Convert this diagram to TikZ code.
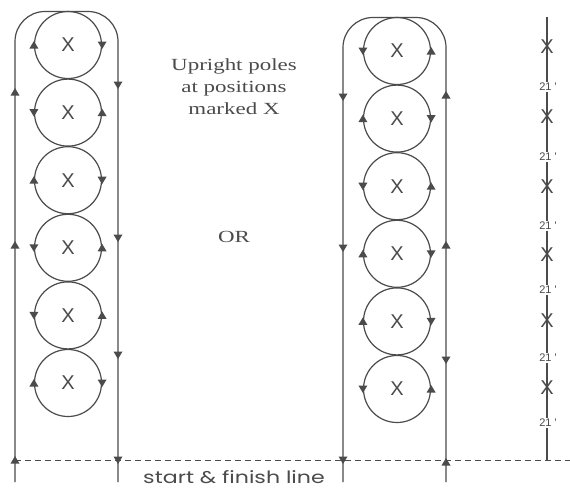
\documentclass[tikz,border=0pt]{standalone}
\usepackage{fontspec}
\setmainfont{Liberation Serif}
\newfontfamily\xfont{Liberation Sans}
\newfontfamily\agfont{Poppins}
\definecolor{lc}{RGB}{75,75,75}
\newcommand\arrU[1]{\fill[lc] (#1) ++(-4.5,3.5) -- ++(9,0) -- ++(-4.5,-7.5) -- cycle;}
\newcommand\arrD[1]{\fill[lc] (#1) ++(-4.5,-3.5) -- ++(9,0) -- ++(-4.5,7.5) -- cycle;}
\newcommand\widetxt[1]{\scalebox{1.35}[1]{#1}}
\begin{document}
\begin{tikzpicture}[x=1pt,y=-1pt,
  ln/.style={draw=lc, line width=1.2pt},
  pole/.style={circle, draw=lc, line width=1.2pt, minimum size=67pt, inner sep=0pt,
    font=\xfont\fontsize{20}{20}\selectfont, text=lc},
  xmark/.style={inner sep=0pt, font=\xfont\fontsize{20}{20}\selectfont, text=lc},
  dist/.style={fill=white, inner sep=1pt, font=\xfont\fontsize{11}{11}\selectfont, text=lc},
  txt/.style={align=center, text=lc, font=\fontsize{17}{22}\selectfont}]
\useasboundingbox (0,0) rectangle (570,490);
\fill[white] (0,0) rectangle (570,490);

% ---------- left pattern ----------
\coordinate (La) at (15,482);
\coordinate (Lb) at (15,11.5);
\coordinate (Lc) at (118,11.5);
\coordinate (Ld) at (118,482);
\draw[ln, rounded corners=30pt] (La) -- (Lb) -- (Lc) -- (Ld);
\foreach \i [evaluate=\i as \yy using 45+67.6*(\i-1)] in {1,...,6}
  \node[pole] (L\i) at (68,\yy) {X};
\arrU{15,92} \arrU{15,245} \arrU{15,460}
\arrD{118,85} \arrD{118,238} \arrD{118,355} \arrD{118,460}
\arrU{L1.west} \arrD{L1.east}
\arrD{L2.west} \arrU{L2.east}
\arrU{L3.west} \arrD{L3.east}
\arrD{L4.west} \arrU{L4.east}
\arrD{L5.west} \arrU{L5.east}
\arrU{L6.west} \arrD{L6.east}

% ---------- right pattern ----------
\coordinate (Ra) at (343,482);
\coordinate (Rb) at (343,17.5);
\coordinate (Rc) at (446,17.5);
\coordinate (Rd) at (446,482);
\draw[ln, rounded corners=30pt] (Ra) -- (Rb) -- (Rc) -- (Rd);
\foreach \i [evaluate=\i as \yy using 51+67.6*(\i-1)] in {1,...,6}
  \node[pole] (R\i) at (397,\yy) {X};
\arrD{343,97} \arrD{343,248} \arrD{343,460}
\arrU{446,95} \arrU{446,245} \arrD{446,360} \arrU{446,462}
\arrD{R1.west} \arrU{R1.east}
\arrU{R2.west} \arrD{R2.east}
\arrD{R3.west} \arrU{R3.east}
\arrU{R4.west} \arrD{R4.east}
\arrU{R5.west} \arrD{R5.east}
\arrD{R6.west} \arrU{R6.east}

% ---------- distance column ----------
\coordinate (Ctop) at (547,17);
\coordinate (Cbot) at (547,460);
\draw[ln] (Ctop) -- (Cbot);
\foreach \i/\yy in {1/47,2/117,3/187,4/255,5/321,6/388}
  \node[xmark] (C\i) at (547,\yy) {X};
\foreach \i/\yy in {1/87,2/157,3/226,4/290,5/358,6/423}
  \node[dist] (D\i) at (548,\yy) {21\ '};

% ---------- start line ----------
\coordinate (Sa) at (15,460);
\coordinate (Sb) at (570,460);
\draw[draw=lc, line width=1pt, dash pattern=on 6pt off 4pt] (Sa) -- (Sb);

% ---------- texts ----------
\node[txt] (poles) at (234,87) {\widetxt{Upright poles}\\\widetxt{at positions}\\\widetxt{marked X}};
\node[txt] (or) at (234,237) {\widetxt{OR}};
\node[text=lc, font=\agfont\fontsize{17}{17}\selectfont] (start) at (234,477) {\scalebox{1.3}[1]{start \& finish line}};
\end{tikzpicture}
\end{document}
